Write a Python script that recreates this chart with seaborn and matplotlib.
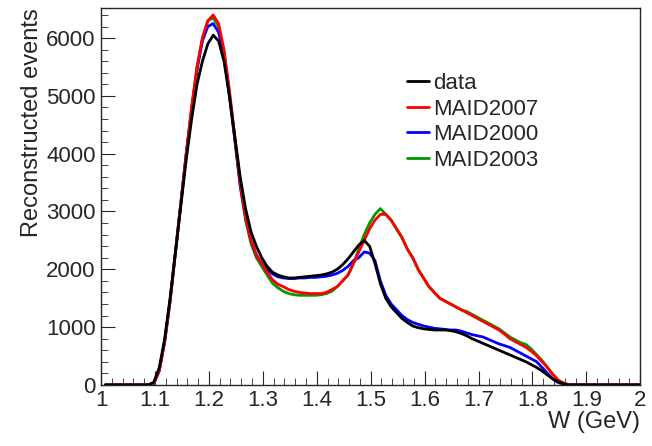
import numpy as np
import pandas as pd
import matplotlib
matplotlib.use("Agg")
import matplotlib.pyplot as plt
from matplotlib.ticker import MultipleLocator
import seaborn as sns

# 0.01 GeV bins from 1.0 to 2.0
w = np.round(np.arange(1.008, 2.0, 0.01), 3)

data = [0]*9 + [50, 300, 800, 1500, 2300, 3100, 3900, 4600, 5200, 5600, 5900,
        6050, 5950, 5600, 5000, 4300, 3600, 3050, 2650, 2400, 2200,
        2050, 1950, 1900, 1870, 1850, 1850, 1860, 1870, 1880, 1890,
        1900, 1920, 1950, 2000, 2080, 2180, 2300, 2420, 2500, 2400,
        2100, 1750, 1500, 1350, 1250, 1150, 1080, 1020, 990, 970,
        960, 950, 950, 950, 940, 920, 890, 850, 800, 760,
        720, 680, 640, 600, 560, 520, 480, 440, 400, 350,
        300, 240, 170, 100, 50, 20] + [0]*14

maid2007 = [0]*9 + [30, 250, 750, 1450, 2300, 3150, 4000, 4800, 5500, 6000, 6300,
            6400, 6250, 5800, 5100, 4300, 3500, 2900, 2500, 2250, 2100,
            1950, 1820, 1740, 1700, 1650, 1620, 1600, 1590, 1580, 1580,
            1580, 1600, 1650, 1700, 1800, 1900, 2100, 2300, 2500, 2700,
            2850, 2950, 2950, 2850, 2700, 2550, 2350, 2200, 2000, 1850,
            1700, 1600, 1500, 1450, 1400, 1350, 1300, 1250, 1200, 1150,
            1100, 1050, 1000, 950, 880, 800, 750, 700, 650, 580,
            500, 400, 300, 180, 80, 30] + [0]*14

maid2000 = [0]*9 + [30, 250, 750, 1450, 2300, 3150, 4000, 4750, 5450, 5950, 6200,
            6250, 6100, 5700, 5000, 4250, 3450, 2900, 2500, 2250, 2100,
            2000, 1920, 1870, 1850, 1840, 1840, 1850, 1850, 1860, 1860,
            1870, 1880, 1900, 1930, 1980, 2050, 2150, 2200, 2300, 2280,
            2150, 1800, 1550, 1400, 1300, 1200, 1130, 1080, 1050, 1020,
            1000, 980, 970, 960, 950, 950, 930, 900, 870, 850,
            830, 790, 750, 710, 680, 650, 600, 550, 500, 450,
            400, 300, 200, 100, 40, 15] + [0]*14

maid2003 = [0]*9 + [30, 250, 750, 1450, 2300, 3150, 4000, 4800, 5500, 6000, 6300,
            6350, 6200, 5750, 5050, 4250, 3450, 2850, 2450, 2200, 2050,
            1900, 1760, 1680, 1620, 1580, 1560, 1550, 1550, 1550, 1550,
            1560, 1580, 1620, 1700, 1800, 1900, 2100, 2350, 2600, 2800,
            2950, 3050, 2950, 2850, 2700, 2550, 2350, 2200, 2000, 1850,
            1700, 1600, 1500, 1450, 1400, 1350, 1300, 1270, 1220, 1170,
            1120, 1070, 1020, 970, 900, 830, 780, 730, 700, 620,
            520, 420, 300, 180, 80, 30] + [0]*14

series = {"data": data, "MAID2007": maid2007, "MAID2000": maid2000, "MAID2003": maid2003}
colors = {"data": "black", "MAID2007": "#ff0000", "MAID2000": "#0000ff", "MAID2003": "#009900"}
order = ["MAID2003", "MAID2000", "MAID2007", "data"]
xlabels = ["1", "1.1", "1.2", "1.3", "1.4", "1.5", "1.6", "1.7", "1.8", "1.9", "2"]

sns.set_style("ticks")
plt.rcParams["font.family"] = ["Liberation Sans", "DejaVu Sans"]

fig, ax = plt.subplots(figsize=(6.52, 4.46), dpi=100)
fig.subplots_adjust(left=0.155, right=0.982, top=0.982, bottom=0.137)

for name in order:
    df = pd.DataFrame({"W": w, "N": series[name]})
    sns.lineplot(data=df, x="W", y="N", ax=ax, color=colors[name], lw=2.0,
                 label=name, legend=False)

ax.set_xlim(1.0, 2.0)
ax.set_ylim(0, 6520)
ax.set_xticks(np.round(np.arange(1.0, 2.01, 0.1), 1))
ax.set_xticklabels(xlabels)
ax.xaxis.set_minor_locator(MultipleLocator(0.02))
ax.yaxis.set_major_locator(MultipleLocator(1000))
ax.yaxis.set_minor_locator(MultipleLocator(200))
ax.tick_params(which="both", direction="in", top=False, right=False, labelsize=16, pad=4)
ax.tick_params(which="major", length=10)
ax.tick_params(which="minor", length=5)
for s in ax.spines.values():
    s.set_linewidth(1.0)
ax.set_xlabel("W (GeV)", fontsize=17, loc="right", labelpad=0)
ax.set_ylabel("Reconstructed events", fontsize=17, loc="top", labelpad=2)

handles, labels = ax.get_legend_handles_labels()
hmap = dict(zip(labels, handles))
names = ["data", "MAID2007", "MAID2000", "MAID2003"]
ax.legend([hmap[k] for k in names], names,
          loc="upper left", bbox_to_anchor=(0.53, 0.88), frameon=False,
          fontsize=16, handlelength=1.0, handletextpad=0.2, labelspacing=0.2)

fig.savefig("out.png")
